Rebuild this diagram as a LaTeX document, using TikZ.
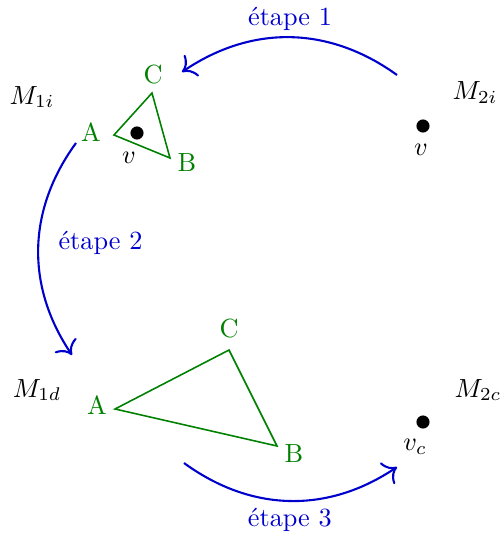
\documentclass[tikz,border=0pt]{standalone}
\usepackage{tikz}
\usetikzlibrary{positioning, arrows.meta}

\begin{document}
\begin{tikzpicture}[x=0.0134cm, y=-0.0134cm,
  sommet/.style={text=green!50!black},
  tri/.style={draw=green!50!black, semithick},
  etape/.style={-{To[scale=1.4]}, draw=blue!80!black, thick},
  lbl/.style={text=blue!80!black},
  point/.style={circle, fill=black, inner sep=0pt, minimum size=5pt}]
\useasboundingbox (0,0) rectangle (502,535);

% espaces
\node (M1i) at (32,97) {$M_{1i}$};
\node (M2i) at (475,93) {$M_{2i}$};
\node (M1d) at (37,390) {$M_{1d}$};
\node (M2c) at (478,390) {$M_{2c}$};

% petit triangle
\coordinate (A1) at (114,135);
\coordinate (B1) at (170,158);
\coordinate (C1) at (152,93);
\draw[tri] (A1) -- (C1) -- (B1) -- cycle;
\node[sommet] (lA1) at (91,132) {A};
\node[sommet] (lB1) at (187,163) {B};
\node[sommet] (lC1) at (153,75) {C};
\node[point] (v1) at (137,133) {};
\node (lv1) at (129,158) {$v$};

% point seul en haut
\node[point] (v2) at (423,126) {};
\node (lv2) at (421,150) {$v$};

% grand triangle
\coordinate (A2) at (115,409);
\coordinate (B2) at (277,446);
\coordinate (C2) at (229,350);
\draw[tri] (A2) -- (C2) -- (B2) -- cycle;
\node[sommet] (lA2) at (97,405) {A};
\node[sommet] (lB2) at (294,454) {B};
\node[sommet] (lC2) at (229,329) {C};

% point seul en bas
\node[point] (v3) at (423,422) {};
\node (lv3) at (415,447) {$v_c$};

% etapes
\coordinate (e1a) at (397,75);
\coordinate (e1b) at (182,72);
\coordinate (e2a) at (76,143);
\coordinate (e2b) at (72,355);
\coordinate (e3a) at (184,463);
\coordinate (e3b) at (397,467);
\draw[etape] (e1a) to[bend right=35] node[midway, above=-1pt, lbl] (t1) {étape 1} (e1b);
\draw[etape] (e2a) to[bend right=35] node[midway, right=4pt, yshift=2pt, lbl] (t2) {étape 2} (e2b);
\draw[etape] (e3a) to[bend right=35] node[midway, below=-1pt, lbl] (t3) {étape 3} (e3b);
\end{tikzpicture}
\end{document}
